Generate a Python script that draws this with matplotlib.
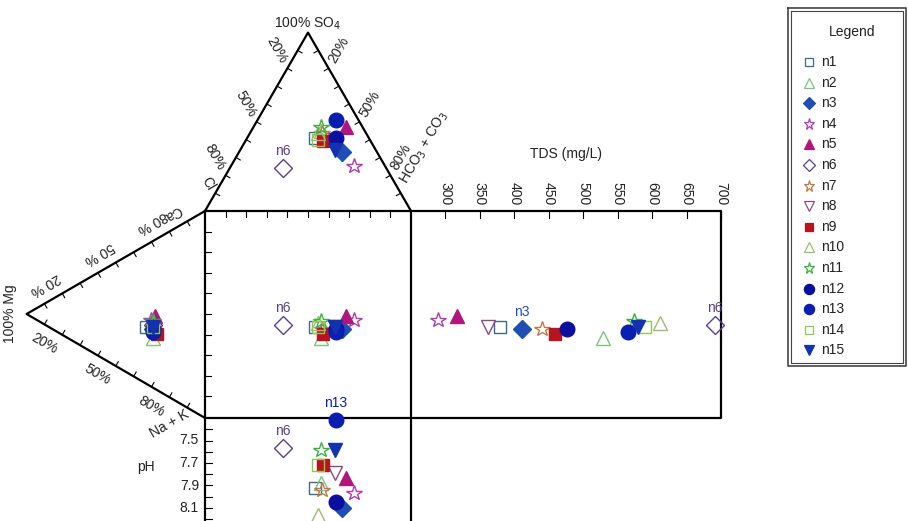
import numpy as np
import matplotlib.pyplot as plt

plt.rcParams['font.family'] = ['Liberation Sans', 'DejaVu Sans']

# sample data (percent of meq, TDS in mg/L)
samples = ['n1', 'n2', 'n3', 'n4', 'n5', 'n6', 'n7', 'n8', 'n9', 'n10',
           'n11', 'n12', 'n13', 'n14', 'n15']
ca = [27, 24, 28, 32, 35, 30, 28, 29, 27, 31, 32, 28, 27, 29, 29]
mg = [33, 29, 29, 30, 28, 29, 29, 29, 27, 29, 29, 29, 29, 29, 29]
na_k = [40, 47, 43, 38, 37, 41, 43, 42, 46, 40, 39, 43, 44, 42, 42]
so4 = [41, 45, 33, 25, 47, 24, 44, 40, 39, 44, 47, 41, 51, 40, 34]
cl = [26, 21, 17, 15, 8, 50, 21, 17, 23, 23, 20, 16, 11, 25, 20]
hco3 = [33, 34, 50, 60, 45, 26, 35, 43, 38, 33, 33, 43, 38, 35, 46]
tds = [379, 529, 411, 289, 317, 691, 440, 362, 459, 611, 574, 476, 565, 590, 580]
ph = [7.92, 7.88, 8.10, 7.97, 7.83, 7.57, 7.94, 7.79, 7.72, 8.16,
      7.58, 8.05, 7.32, 7.72, 7.58]
labelled = {'n6': ['tri', 'sq', 'tds', 'ph'], 'n3': ['tds'], 'n13': ['ph']}

tds_ticks = [300, 350, 400, 450, 500, 550, 600, 650, 700]
ph_ticks = [7.5, 7.7, 7.9, 8.1]

markers = ['s', '^', 'D', '*', '^', 'D', '*', 'v', 's', '^', '*', 'o', 'o', 's', 'v']
filled = [False, False, True, False, True, False, False, False, True, False,
          False, True, True, False, True]
colors = ['#3f6a87', '#7cc47c', '#1f4fb5', '#b03cb0', '#b0177e', '#5b3f8c',
          '#c0784a', '#8c4a80', '#b8141e', '#9dbb6e', '#3cb043', '#0b0fa0',
          '#0a1eb0', '#8cc850', '#1332b0']
sizes = {'s': 8.5, '^': 9.5, 'v': 9.5, 'D': 9, '*': 11.5, 'o': 10.5}

# layout (figure pixels)
X0, X1, Y0, Y1 = 205, 411, 211, 418
L = X1 - X0
H = L * np.sqrt(3) / 2
TX1 = 721
TDS_MIN, TDS_MAX = 250, 700
PH0, PH_PX = 7.3, 112.5

apex_top = (X0 + L / 2, Y0 - H)
apex_left = (X0 - H, Y0 + L / 2)


def top_xy(s, h):
    s, h = np.asarray(s) / 100, np.asarray(h) / 100
    return X0 + L * (h + s / 2), Y0 - H * s


def left_xy(m, n):
    m, n = np.asarray(m) / 100, np.asarray(n) / 100
    return X0 - H * m, Y0 + L * (n + m / 2)


def tds_x(t):
    return X1 + (np.asarray(t) - TDS_MIN) / (TDS_MAX - TDS_MIN) * (TX1 - X1)


def ph_y(p):
    return Y1 + (np.asarray(p) - PH0) * PH_PX


fig = plt.figure(figsize=(9.08, 5.21), dpi=100)
ax = fig.add_axes([0, 0, 1, 1])
ax.set_xlim(0, 908)
ax.set_ylim(521, 0)
ax.axis('off')

lw = 1.6
txt = dict(fontsize=10, color='#222222')

# frames
ax.plot([X0, apex_top[0], X1], [Y0, apex_top[1], Y0], color='k', lw=lw)
ax.plot([X0, apex_left[0], X0], [Y0, apex_left[1], Y1], color='k', lw=lw)
ax.plot([X0, TX1, TX1, X0, X0], [Y0, Y0, Y1, Y1, Y0], color='k', lw=lw)
ax.plot([X1, X1], [Y0, 521], color='k', lw=lw)
ax.plot([X0, X0], [Y1, 521], color='k', lw=lw)


def edge_ticks(p0, p1, inner):
    p0, p1, inner = map(np.array, (p0, p1, inner))
    for f in np.arange(0.1, 0.95, 0.1):
        p = p0 + f * (p1 - p0)
        d = p1 - p0
        nrm = np.array([-d[1], d[0]]) / np.hypot(*d)
        if np.dot(inner - p, nrm) < 0:
            nrm = -nrm
        q = p + 5 * nrm
        ax.plot([p[0], q[0]], [p[1], q[1]], color='k', lw=0.8)


cen_top = ((X0 + X1 + apex_top[0]) / 3, (2 * Y0 + apex_top[1]) / 3)
cen_left = ((2 * X0 + apex_left[0]) / 3, (Y0 + Y1 + apex_left[1]) / 3)
edge_ticks(apex_top, (X0, Y0), cen_top)
edge_ticks(apex_top, (X1, Y0), cen_top)
edge_ticks(apex_left, (X0, Y0), cen_left)
edge_ticks(apex_left, (X0, Y1), cen_left)

for f in np.arange(0.1, 0.95, 0.1):
    ax.plot([X0 + f * L] * 2, [Y0, Y0 + 6], color='k', lw=0.8)
    ax.plot([X0, X0 + 6], [Y0 + f * L] * 2, color='k', lw=0.8)


def edge_label(p0, p1, f, dist, text, rot, **kw):
    # dist > 0 puts the text outside the triangle
    p0, p1 = np.array(p0), np.array(p1)
    p = p0 + f * (p1 - p0)
    d = p1 - p0
    nrm = np.array([-d[1], d[0]]) / np.hypot(*d)
    q = p + dist * nrm
    ax.text(q[0], q[1], text, rotation=rot, ha='center', va='center',
            rotation_mode='anchor', **txt, **kw)


# top triangle labels
for p in [20, 50, 80]:
    edge_label(apex_top, (X0, Y0), p / 100 - 0.05, 18, f'{p}%', -60)
    edge_label(apex_top, (X1, Y0), p / 100 - 0.05, -18, f'{p}%', 60)
edge_label(apex_top, (X0, Y0), 0.88, 11, 'Cl', -60)
ax.text(apex_top[0], apex_top[1] - 9, '100% SO$_4$', ha='center', va='center', **txt)
ax.text(424, 148, 'HCO$_3$ + CO$_3$', rotation=60, ha='center', va='center',
        rotation_mode='anchor', **txt)

# left triangle labels
for p in [20, 50, 80]:
    edge_label(apex_left, (X0, Y0), p / 100 - 0.05, -16, f'{p} %', 210)
    edge_label(apex_left, (X0, Y1), p / 100 - 0.055, 17, f'{p}%', -30)
edge_label(apex_left, (X0, Y0), 0.86, -14, 'Ca', 210)
ax.text(10, apex_left[1], '100% Mg', rotation=90, ha='center', va='center', **txt)
ax.text(170, 424, 'Na + K', rotation=30, ha='center', va='center',
        rotation_mode='anchor', **txt)

# TDS axis
for t in tds_ticks:
    x = tds_x(t)
    ax.plot([x, x], [Y0, Y0 + 7], color='k', lw=0.8)
    ax.text(x, 194, str(t), rotation=-90, ha='center', va='center', **txt)
ax.text(566, 154, 'TDS (mg/L)', ha='center', va='center', **txt)

# pH axis
for p in np.arange(7.4, 8.25, 0.1):
    y = ph_y(p)
    ax.plot([X0, X0 + 7], [y, y], color='k', lw=0.8)
for p in ph_ticks:
    ax.text(199, ph_y(p), f'{p:.1f}', ha='right', va='center', **txt)
ax.text(146, 467, 'pH', ha='center', va='center', **txt)

# data points
tx, ty = top_xy(so4, hco3)
lx, ly = left_xy(mg, na_k)
txd = tds_x(tds)
py = ph_y(ph)
for i, name in enumerate(samples):
    m = markers[i]
    style = dict(marker=m, ms=sizes[m], ls='none', mec=colors[i], mew=1.0,
                 mfc=colors[i] if filled[i] else 'none')
    pts = {'tri': (tx[i], ty[i]), 'left': (lx[i], ly[i]), 'sq': (tx[i], ly[i]),
           'tds': (txd[i], ly[i]), 'ph': (tx[i], py[i])}
    for key, (x, y) in pts.items():
        ax.plot(x, y, **style)
        if key in labelled.get(name, []):
            ax.text(x, y - 17, name, ha='center', va='center', fontsize=10,
                    color=colors[i])

# legend box
ax.plot([788, 906, 906, 788, 788], [8, 8, 366, 366, 8], color='#444444', lw=1.2)
ax.plot([791, 903, 903, 791, 791], [11, 11, 363, 363, 11], color='#444444', lw=0.8)
ax.text(852, 32, 'Legend', ha='center', va='center', **txt)
for i, name in enumerate(samples):
    y = 62 + i * 20.6
    m = markers[i]
    ax.plot(809, y, marker=m, ms=sizes[m] * 0.7, ls='none', mec=colors[i], mew=0.9,
            mfc=colors[i] if filled[i] else 'none')
    ax.text(821, y, name, ha='left', va='center', fontsize=10, color='#222222')

fig.savefig('out.png', dpi=100)
